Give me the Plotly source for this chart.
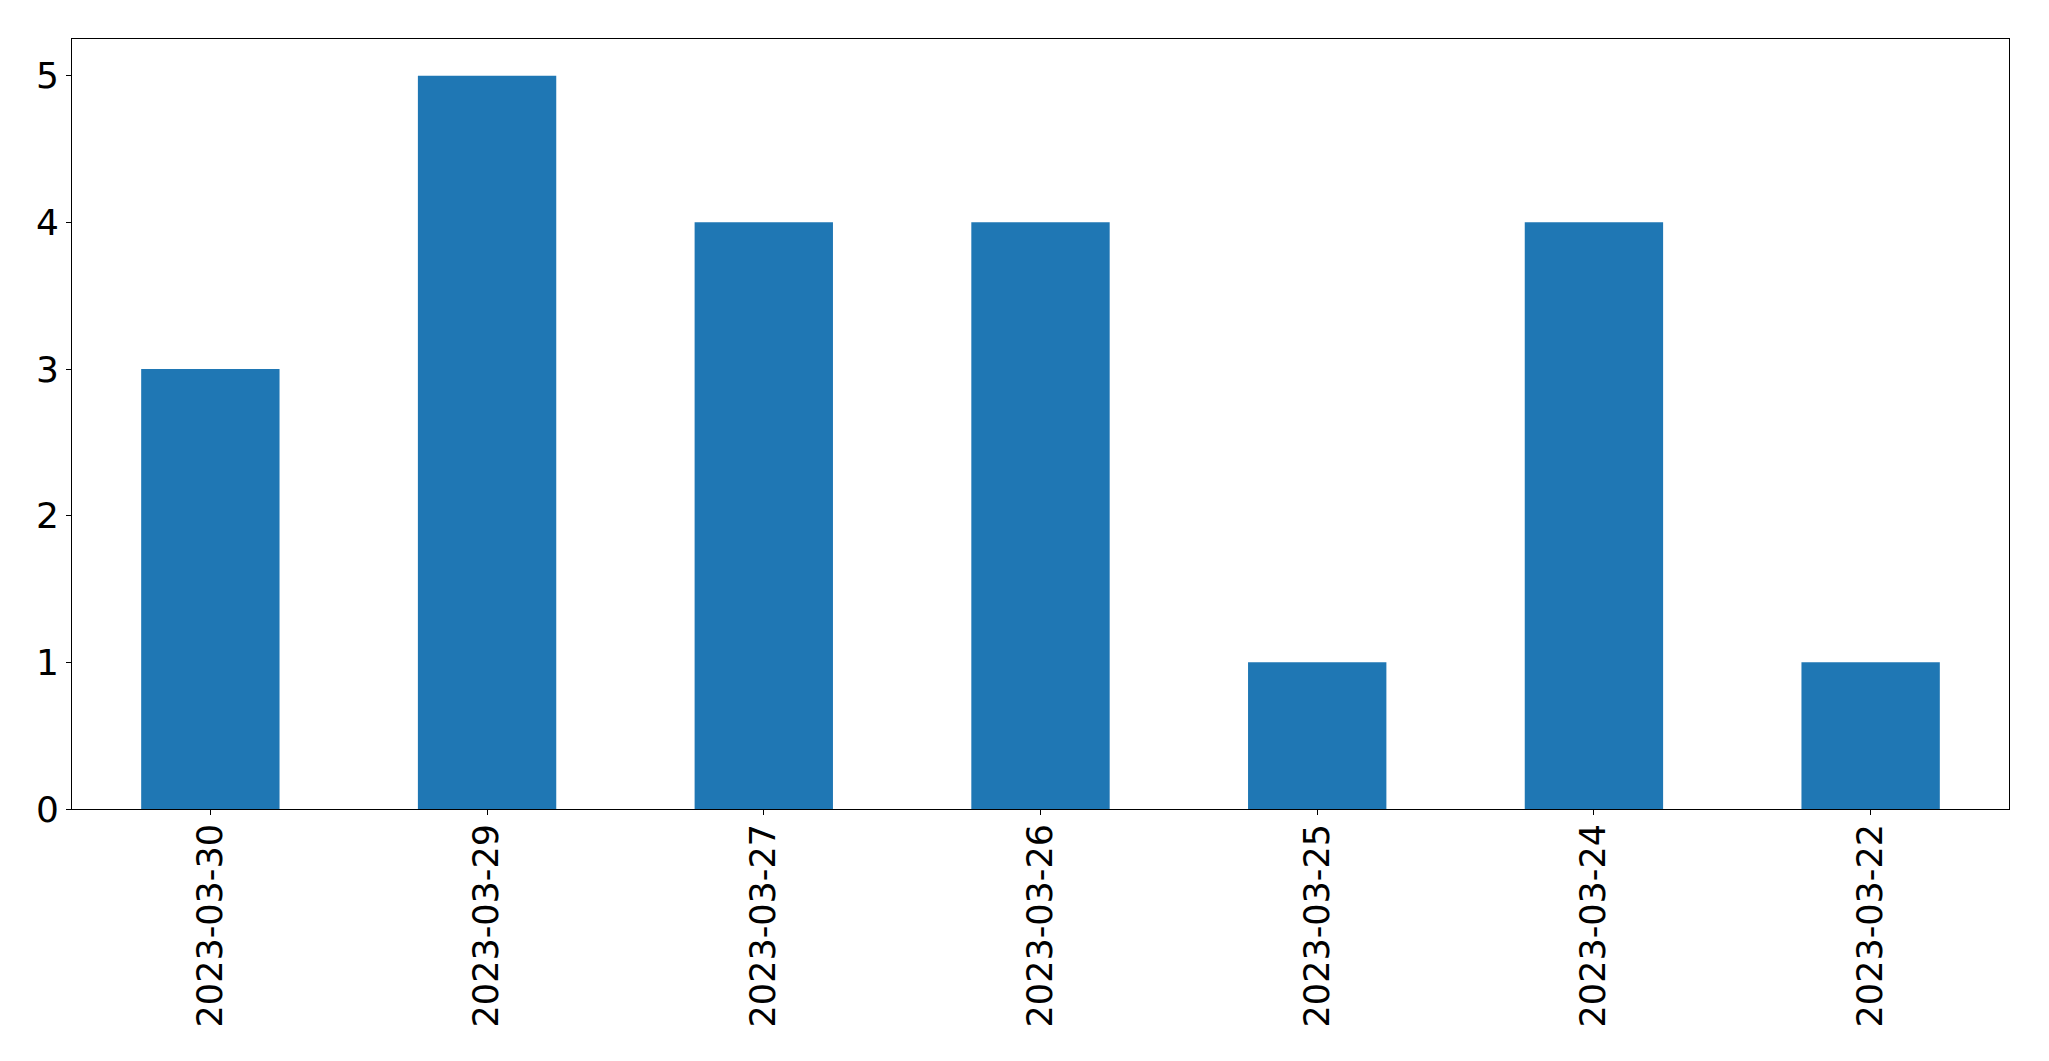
import plotly.graph_objects as go

dates = ["2023-03-30", "2023-03-29", "2023-03-27", "2023-03-26", "2023-03-25", "2023-03-24", "2023-03-22"]
counts = [3, 5, 4, 4, 1, 4, 1]
ytick_vals = [0, 1, 2, 3, 4, 5]

fig = go.Figure(go.Bar(x=dates, y=counts, width=0.5, marker=dict(color="#1f77b4", line=dict(width=0))))

font = dict(family="DejaVu Sans", size=36, color="black")
xfont = dict(family="DejaVu Sans", size=35, color="black")
fig.update_layout(
    width=2049, height=1061,
    margin=dict(l=64, r=48, t=31, b=260),
    plot_bgcolor="white", paper_bgcolor="white",
    showlegend=False,
    font=font,
)
fig.update_xaxes(
    type="category", range=[-0.5, 6.5],
    showline=True, linecolor="black", linewidth=1, mirror=True,
    ticks="outside", ticklen=5, tickcolor="black", tickwidth=1,
    tickangle=-90, showgrid=False, zeroline=False, tickfont=xfont,
    ticklabelstandoff=-5,
)
fig.update_yaxes(
    range=[0, 5.25], tickvals=ytick_vals,
    showline=True, linecolor="black", linewidth=1, mirror=True,
    ticks="outside", ticklen=5, tickcolor="black", tickwidth=1,
    showgrid=False, zeroline=False, tickfont=font,
)
fig.write_html("out.html")
